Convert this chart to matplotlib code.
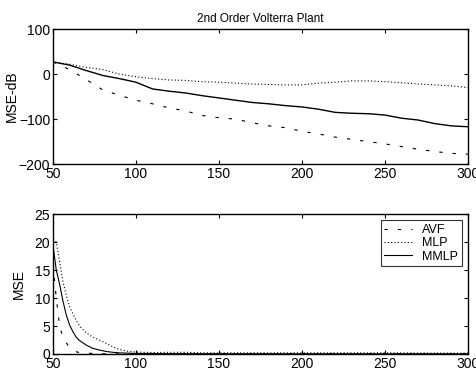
"""
2nd Order Volterra Plant - MSE learning curves (AVF / MLP / MMLP)
"""
import matplotlib
matplotlib.use('Agg')
import matplotlib.pyplot as plt

# ==========================================
# DATA
# ==========================================
X_DB = [50, 60, 70, 80, 90, 100, 110, 120, 130, 140, 150, 160, 170, 180, 190,
        200, 210, 220, 230, 240, 250, 260, 270, 280, 290, 300]
MMLP_DB = [27, 20, 8, -3, -10, -18, -33, -38, -42, -48, -53, -58, -63, -66, -70,
           -73, -78, -85, -87, -88, -91, -98, -102, -110, -115, -117]
MLP_DB = [27, 22, 15, 10, 0, -6, -10, -13, -14, -17, -18, -20, -22, -23, -24,
          -24, -20, -18, -15, -15, -17, -19, -22, -24, -26, -30]
AVF_DB = [27, 10, -12, -35, -47, -58, -66, -75, -82, -92, -97, -100, -108, -115,
          -119, -127, -133, -140, -145, -150, -155, -161, -167, -172, -176, -178]

X_LIN = [50, 52, 54, 56, 58, 60, 62, 64, 66, 70, 74, 78, 82, 86, 90, 95, 100,
         110, 120, 130, 140, 150, 200, 250, 300]
MMLP_LIN = [19.5, 15, 12.5, 9.5, 7, 5.2, 4.0, 3.0, 2.4, 1.6, 1.0, 0.7, 0.45, 0.3,
            0.2, 0.15, 0.1, 0.08, 0.06, 0.05, 0.04, 0.04, 0.03, 0.03, 0.03]
MLP_LIN = [20.5, 20, 16.5, 13, 10.5, 8.5, 7.2, 6, 5.0, 3.8, 3.0, 2.5, 1.9, 1.3,
           0.8, 0.5, 0.35, 0.25, 0.3, 0.3, 0.2, 0.2, 0.2, 0.2, 0.15]
AVF_LIN = [16, 10, 5, 3, 2, 1.2, 0.7, 0.4, 0.25, 0.15, 0.1, 0.05, 0.03, 0.02,
           0.02, 0.02, 0.02, 0.02, 0.02, 0.02, 0.02, 0.02, 0.02, 0.02, 0.02]

LABELS = ['AVF', 'MLP', 'MMLP']

# ==========================================
# STYLE
# ==========================================
plt.rcParams['font.family'] = ['Liberation Sans', 'DejaVu Sans']
DASH = (0, (3, 9))
DOT = (0, (1, 2))


def style_axes(ax):
    ax.tick_params(direction='in', top=True, right=True, length=3,
                   labelsize=10, width=0.8, pad=2)
    for s in ax.spines.values():
        s.set_linewidth(1.0)
    ax.set_xlim(50, 300)
    ax.set_xticks([50, 100, 150, 200, 250, 300])


fig = plt.figure(figsize=(4.77, 3.73), dpi=100)

# top: MSE in dB
ax1 = fig.add_axes([0.111, 0.560, 0.870, 0.362])
ax1.plot(X_DB, AVF_DB, color='black', lw=0.8, linestyle=DASH)
ax1.plot(X_DB, MLP_DB, color='black', lw=0.8, linestyle=DOT)
ax1.plot(X_DB, MMLP_DB, color='black', lw=1.0)
ax1.set_ylim(-200, 100)
ax1.set_yticks([-200, -100, 0, 100])
ax1.set_ylabel('MSE-dB', fontsize=10, labelpad=0)
ax1.set_title('2nd Order Volterra Plant', fontsize=8.5, pad=5)
style_axes(ax1)

# bottom: linear MSE
ax2 = fig.add_axes([0.111, 0.051, 0.870, 0.375])
ax2.plot(X_LIN, AVF_LIN, color='black', lw=0.8, linestyle=DASH, label=LABELS[0])
ax2.plot(X_LIN, MLP_LIN, color='black', lw=0.8, linestyle=DOT, label=LABELS[1])
ax2.plot(X_LIN, MMLP_LIN, color='black', lw=0.8, label=LABELS[2])
ax2.set_ylim(0, 25)
ax2.set_yticks([0, 5, 10, 15, 20, 25])
ax2.set_ylabel('MSE', fontsize=10, labelpad=6)
style_axes(ax2)

leg = ax2.legend(loc='upper right', fontsize=9, frameon=True, fancybox=False,
                 edgecolor='black', handlelength=2.2, handletextpad=0.8,
                 borderpad=0.3, labelspacing=0.1, borderaxespad=0.5)
leg.get_frame().set_linewidth(0.8)

fig.savefig('out.png', dpi=100)
